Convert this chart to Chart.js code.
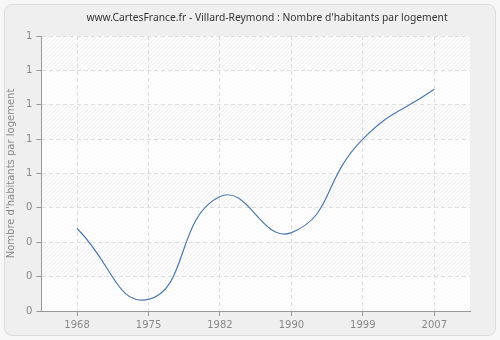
<!DOCTYPE html>
<html>
<head>
<meta charset="utf-8">
<script src="https://cdn.jsdelivr.net/npm/chart.js@4/dist/chart.umd.min.js"></script>
<style>
  html, body { margin: 0; padding: 0; background: #f7f7f7; }
  #wrap {
    position: absolute; left: 4px; top: 4px; width: 490px; height: 330px;
    background: #efefef; border: 1px solid #dcdcdc; border-radius: 8px;
  }
  #box { position: absolute; left: 0; top: 0; width: 500px; height: 340px; }
</style>
</head>
<body>
<div id="wrap"></div>
<div id="box"><canvas id="chart" width="500" height="340"></canvas></div>
<script>
const years = ['1968', '1975', '1982', '1990', '1999', '2007'];
const habitantsParLogement = [0.34, 0.134, 0.433, 0.328, 0.60, 0.745];
const chartTitle = "www.CartesFrance.fr - Villard-Reymond : Nombre d'habitants par logement";

// Hatched plot background with alternating lighter bands
const plotBackground = {
  id: 'plotBackground',
  beforeDraw(chart) {
    const { ctx, chartArea: a } = chart;
    const yScale = chart.scales.y;
    ctx.save();
    ctx.fillStyle = '#ffffff';
    ctx.fillRect(a.left, a.top, a.right - a.left, a.bottom - a.top);
    ctx.beginPath();
    ctx.rect(a.left, a.top, a.right - a.left, a.bottom - a.top);
    ctx.clip();
    ctx.strokeStyle = '#e9e9e9';
    ctx.lineWidth = 1;
    const h = a.bottom - a.top;
    for (let x = a.left - h; x < a.right + h; x += 4) {
      ctx.beginPath();
      ctx.moveTo(x, a.bottom);
      ctx.lineTo(x + h, a.top);
      ctx.stroke();
    }
    // lighter bands, every other one from the bottom
    ctx.fillStyle = 'rgba(255,255,255,0.55)';
    const ticks = yScale.ticks;
    for (let i = 0; i < ticks.length - 1; i += 2) {
      const y0 = yScale.getPixelForValue(ticks[i].value);
      const y1 = yScale.getPixelForValue(ticks[i + 1].value);
      ctx.fillRect(a.left, y1, a.right - a.left, y0 - y1);
    }
    ctx.restore();
  },
  afterDraw(chart) {
    const { ctx } = chart;
    ctx.save();
    ctx.fillStyle = '#333';
    ctx.font = '10.3px "Noto Sans"';
    ctx.textAlign = 'center';
    ctx.textBaseline = 'middle';
    ctx.fillText(chartTitle, 267, 18);
    ctx.restore();
  }
};

const ctx = document.getElementById('chart').getContext('2d');
new Chart(ctx, {
  type: 'line',
  data: {
    labels: years,
    datasets: [{
      data: habitantsParLogement,
      borderColor: '#4f79ad',
      borderWidth: 1.2,
      pointRadius: 0,
      fill: false,
      tension: 0.5
    }]
  },
  options: {
    responsive: false,
    animation: false,
    layout: { padding: { left: 3, right: 30, top: 36, bottom: 6 } },
    plugins: {
      legend: { display: false },
      tooltip: { enabled: false },
      title: { display: false }
    },
    scales: {
      x: {
        offset: true,
        grid: {
          color: '#dedede',
          tickLength: 5,
          tickColor: '#999'
        },
        border: { color: '#999', dash: [4, 3] },
        ticks: { color: '#888', font: { family: 'DejaVu Sans', size: 10 }, padding: 3 }
      },
      y: {
        min: 0.1,
        max: 0.9,
        grid: {
          color: '#dedede',
          tickLength: 5,
          tickColor: '#999'
        },
        border: { color: '#999', dash: [4, 3] },
        ticks: {
          stepSize: 0.1,
          color: '#888',
          font: { family: 'DejaVu Sans', size: 10 },
          padding: 4,
          callback: v => String(Math.round(v + 1e-9))
        },
        title: {
          display: true,
          text: "Nombre d'habitants par logement",
          color: '#888',
          font: { family: 'DejaVu Sans', size: 10 },
          padding: { top: 2, bottom: 5 }
        }
      }
    }
  },
  plugins: [plotBackground]
});
</script>
</body>
</html>
